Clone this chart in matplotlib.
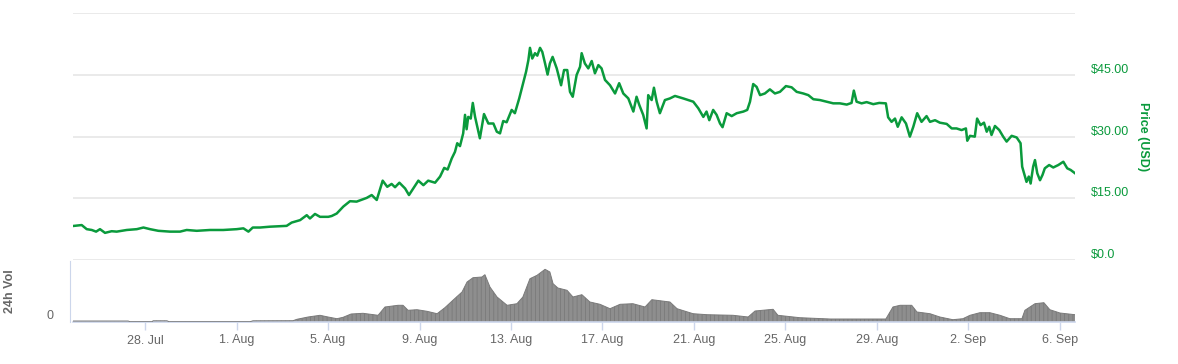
import matplotlib
matplotlib.use("Agg")
import matplotlib.pyplot as plt
import matplotlib.transforms as mtransforms

plt.rcParams['font.family'] = ['Liberation Sans', 'DejaVu Sans']
plt.rcParams['hatch.linewidth'] = 0.6

# days counted from 28. Jul 00:00
price_day = [-3.10, -2.77, -2.55, -2.33, -2.14, -1.97, -1.75, -1.46, -1.24, -0.80,
             -0.36, -0.07, 0.22, 0.58, 1.09, 1.53, 1.82, 2.26, 2.84, 3.42,
             4.01, 4.30, 4.52, 4.71, 5.03, 5.46, 6.19, 6.41, 6.78, 7.07,
             7.21, 7.43, 7.65, 8.01, 8.16, 8.38, 8.67, 8.96, 9.25, 9.69,
             9.91, 10.13, 10.39, 10.59, 10.78, 10.93, 11.12, 11.37, 11.54, 11.73,
             11.95, 12.17, 12.38, 12.68, 12.90, 13.08, 13.23, 13.41, 13.55, 13.65,
             13.77, 13.91, 13.99, 14.06, 14.13, 14.24, 14.33, 14.43, 14.64, 14.82,
             15.01, 15.23, 15.38, 15.52, 15.66, 15.81, 16.03, 16.17, 16.36, 16.51,
             16.66, 16.76, 16.83, 16.93, 17.05, 17.15, 17.27, 17.37, 17.49, 17.60,
             17.70, 17.82, 18.00, 18.19, 18.32, 18.46, 18.58, 18.70, 18.87, 19.02,
             19.09, 19.23, 19.38, 19.53, 19.67, 19.82, 19.96, 20.11, 20.33, 20.55,
             20.73, 20.91, 21.13, 21.35, 21.49, 21.61, 21.78, 21.93, 22.00, 22.15,
             22.25, 22.37, 22.51, 22.73, 22.95, 23.17, 23.53, 23.97, 24.19, 24.41,
             24.55, 24.67, 24.84, 24.99, 25.14, 25.25, 25.43, 25.65, 25.87, 26.16,
             26.33, 26.45, 26.59, 26.74, 26.89, 27.10, 27.32, 27.54, 27.76, 28.02,
             28.27, 28.49, 28.78, 29.00, 29.22, 29.51, 29.80, 30.09, 30.38, 30.68,
             30.89, 30.99, 31.11, 31.33, 31.55, 31.84, 32.10, 32.39, 32.49, 32.64,
             32.79, 32.91, 33.08, 33.27, 33.44, 33.59, 33.76, 33.95, 34.17, 34.32,
             34.54, 34.75, 35.05, 35.27, 35.48, 35.70, 35.89, 35.95, 36.07, 36.28,
             36.38, 36.53, 36.68, 36.80, 36.91, 37.01, 37.16, 37.35, 37.52, 37.67,
             37.89, 38.11, 38.28, 38.35, 38.43, 38.54, 38.64, 38.72, 38.83, 38.91,
             39.01, 39.13, 39.24, 39.34, 39.53, 39.71, 39.93, 40.15, 40.32, 40.47,
             40.66]
price_usd = [8.3, 8.5, 7.5, 7.3, 6.9, 7.5, 6.6, 7.0, 6.9, 7.3,
             7.5, 7.9, 7.5, 7.1, 6.9, 6.9, 7.3, 7.1, 7.3, 7.3,
             7.5, 7.7, 6.9, 7.9, 7.9, 8.1, 8.3, 9.1, 9.7, 10.9,
             10.1, 11.2, 10.5, 10.5, 10.7, 11.3, 13.0, 14.3, 14.2, 15.1,
             15.8, 14.6, 19.3, 17.8, 18.5, 17.7, 18.8, 17.4, 15.8, 17.4,
             19.3, 18.2, 19.3, 18.8, 20.3, 22.4, 22.0, 24.7, 26.3, 28.4,
             27.7, 30.8, 35.3, 31.8, 34.8, 34.4, 38.2, 34.8, 29.6, 35.5,
             33.2, 33.2, 31.2, 30.8, 33.8, 33.5, 36.5, 35.7, 39.3, 42.5,
             45.8, 48.6, 51.6, 49.0, 50.3, 49.7, 51.6, 50.6, 47.8, 45.1,
             47.8, 49.4, 46.6, 42.5, 46.2, 46.2, 40.9, 39.7, 45.0, 47.0,
             50.3, 47.8, 46.6, 48.4, 45.4, 47.4, 46.6, 43.8, 42.5, 40.5,
             43.0, 40.5, 39.3, 36.1, 39.7, 37.7, 35.3, 32.0, 40.1, 38.9,
             41.9, 38.5, 35.7, 38.9, 39.3, 39.9, 39.3, 38.5, 36.9, 34.8,
             36.1, 34.0, 36.5, 35.3, 33.2, 32.3, 35.7, 35.0, 35.7, 36.1,
             36.5, 38.5, 42.8, 42.1, 40.1, 40.5, 41.5, 40.5, 40.9, 42.3,
             42.0, 40.9, 40.5, 40.1, 39.1, 38.9, 38.5, 38.1, 38.1, 37.8,
             38.2, 41.2, 38.5, 38.1, 38.4, 37.9, 38.2, 38.1, 34.7, 33.6,
             34.4, 32.4, 34.7, 33.2, 30.0, 32.4, 35.7, 33.6, 35.0, 33.6,
             34.0, 33.4, 33.1, 32.0, 32.0, 31.6, 32.0, 29.0, 30.2, 30.0,
             34.4, 32.8, 33.4, 31.2, 32.4, 30.4, 32.6, 31.6, 30.0, 28.8,
             30.2, 29.8, 28.4, 22.7, 21.1, 19.0, 20.3, 18.6, 22.7, 24.3,
             21.1, 19.4, 20.7, 22.3, 23.1, 22.5, 23.1, 23.9, 22.3, 21.9,
             21.1]

vol_day = [-3.15, -0.74, -0.66, 0.31, 0.35, 0.96, 1.05, 4.59, 4.72, 6.47,
           6.64, 7.13, 7.65, 8.00, 8.39, 8.66, 9.01, 9.53, 10.19, 10.49,
           11.06, 11.28, 11.50, 11.89, 12.33, 12.77, 13.11, 13.46, 13.86, 14.08,
           14.34, 14.73, 14.86, 15.08, 15.39, 15.83, 16.26, 16.52, 16.83, 17.14,
           17.49, 17.70, 17.84, 18.05, 18.45, 18.71, 19.10, 19.45, 19.89, 20.33,
           20.77, 21.33, 21.86, 22.16, 22.95, 23.26, 23.96, 24.57, 25.71, 26.37,
           26.67, 27.46, 27.67, 28.63, 29.95, 31.26, 32.39, 32.70, 33.01, 33.52,
           33.75, 34.32, 34.75, 35.32, 35.76, 36.07, 36.50, 36.94, 37.38, 37.81,
           38.34, 38.47, 38.91, 39.30, 39.56, 40.00, 40.66]
vol_m = [1.0, 1.0, 0.3, 0.3, 1.2, 1.2, 0.3, 0.3, 1.2, 1.3,
         2.7, 5.0, 6.7, 5.0, 3.3, 4.7, 8.0, 8.7, 6.7, 15.0,
         16.7, 16.7, 11.7, 12.3, 10.7, 8.3, 14.3, 21.7, 30.0, 40.0,
         44.3, 45.0, 47.3, 35.0, 25.0, 16.7, 18.3, 25.0, 43.3, 46.7,
         52.7, 50.0, 38.3, 34.0, 31.7, 25.0, 27.3, 20.0, 17.7, 13.3,
         17.7, 18.3, 15.0, 22.3, 20.0, 13.3, 8.3, 7.3, 6.7, 5.0,
         11.0, 12.7, 6.7, 4.3, 3.0, 3.0, 3.0, 15.0, 16.7, 16.7,
         10.0, 8.3, 5.0, 2.3, 3.3, 6.7, 9.3, 9.3, 6.7, 3.3,
         3.3, 11.7, 18.3, 19.3, 12.3, 9.0, 7.3]

tick_day = [0, 4, 8, 12, 16, 20, 24, 28, 32, 36, 40]
tick_lbl = ['28. Jul', '1. Aug', '5. Aug', '9. Aug', '13. Aug', '17. Aug',
            '21. Aug', '25. Aug', '29. Aug', '2. Sep', '6. Sep']
price_ticks = [0, 15, 30, 45, 60]
price_lbls = ['$0.0', '$15.00', '$30.00', '$45.00', '']

green = '#0a9a3c'
grid_c = '#e6e6e6'
axis_c = '#ccd6eb'
text_c = '#666666'

W, H = 1178, 364
fig = plt.figure(figsize=(W / 100, H / 100), dpi=100)
ax = fig.add_axes([73 / W, 1 - 260 / H, 1002 / W, 246.7 / H])
axv = fig.add_axes([73 / W, 1 - 322 / H, 1002 / W, 61 / H], sharex=ax)

xmin, xmax = -3.15, 40.66

# price panel
for v in price_ticks:
    ax.axhline(v, color=grid_c, lw=1.2, zorder=0)
ax.plot(price_day, price_usd, color=green, lw=1.8, zorder=3)
ax.set_xlim(xmin, xmax)
ax.set_ylim(0, 60)
for s in ax.spines.values():
    s.set_visible(False)
ax.tick_params(left=False, bottom=False, labelleft=False, labelbottom=False)
trans = mtransforms.blended_transform_factory(ax.transAxes, ax.transData)
off = mtransforms.ScaledTranslation(0, 5 / 100, fig.dpi_scale_trans)
for v, lab in zip(price_ticks, price_lbls):
    ax.text(1.0 + 16 / 1002, v, lab, transform=trans + off, color=green,
            fontsize=9, ha='left', va='center')
fig.text(1143 / W, 1 - 137 / H, 'Price (USD)', rotation=270, color=green,
         fontsize=9, fontweight='bold', ha='center', va='center')

# volume panel
axv.fill_between(vol_day, 0, vol_m, facecolor='#8e8e8e', edgecolor='#7a7a7a',
                 hatch='||||', lw=0, zorder=2)
axv.plot(vol_day, vol_m, color='#7a7a7a', lw=0.7, zorder=3)
axv.set_ylim(0, 61)
axv.set_xlim(xmin, xmax)
for k in ['top', 'right']:
    axv.spines[k].set_visible(False)
axv.spines['left'].set_color(axis_c)
axv.spines['left'].set_position(('outward', 2))
axv.spines['bottom'].set_color(axis_c)
axv.spines['bottom'].set_linewidth(1.2)
axv.set_yticks([0])
axv.set_yticklabels(['0'])
axv.tick_params(axis='y', length=0, pad=12, labelsize=9, labelcolor=text_c)
axv.set_xticks(tick_day)
axv.set_xticklabels(tick_lbl)
axv.tick_params(axis='x', length=6, width=1, color=axis_c, pad=3,
                labelsize=9, labelcolor=text_c)
for lab in axv.get_yticklabels():
    lab.set_va('bottom')
fig.text(10 / W, 1 - 291 / H, '24h Vol', rotation=90, color=text_c,
         fontsize=9, fontweight='bold', ha='center', va='center')

fig.savefig('out.png', dpi=100)
